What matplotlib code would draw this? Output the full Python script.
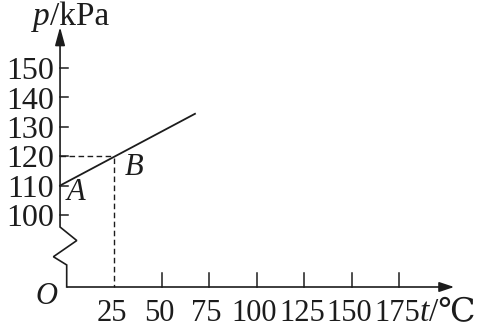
import matplotlib
matplotlib.use("Agg")
import matplotlib.pyplot as plt

# data
x_ticks = [25, 50, 75, 100, 125, 150, 175]
y_ticks = [100, 110, 120, 130, 140, 150]
line_t = [-3.4, 67.6]
line_p = [110.0, 134.4]
point_a = (0, 110)
point_b = (25, 120)

ink = '#1c1c1c'
serif = ['Liberation Serif', 'DejaVu Serif', 'Noto Sans CJK SC']

# broken y axis: lower stub at t=0, upper part a bit to the left
axis_x = -3.4
base_p = 75.5
top_p = 163.9
x_end = 204.0

fig = plt.figure(figsize=(4.8, 3.27), dpi=100)
ax = fig.add_axes([0, 0, 1, 1])
ax.set_xlim(-35.0, 217.6)
ax.set_ylim(61.9, 173.1)
ax.axis('off')

# x axis with arrow
ax.plot([0, x_end - 4], [base_p, base_p], color=ink, lw=1.2, solid_capstyle='butt')
ax.annotate('', xy=(x_end, base_p), xytext=(x_end - 6, base_p),
            arrowprops=dict(arrowstyle='-|>,head_length=0.9,head_width=0.3',
                            color=ink, lw=1.2, shrinkA=0, shrinkB=0))

# y axis with zigzag break and arrow
zig_t = [0.1, 0.1, -6.9, 5.4, axis_x, axis_x]
zig_p = [base_p, 83.0, 85.8, 91.3, 95.9, top_p - 4]
ax.plot(zig_t, zig_p, color=ink, lw=1.2, solid_joinstyle='miter')
ax.annotate('', xy=(axis_x, top_p), xytext=(axis_x, top_p - 5),
            arrowprops=dict(arrowstyle='-|>,head_length=1.1,head_width=0.3',
                            color=ink, lw=1.2, shrinkA=0, shrinkB=0))

# ticks
for t in x_ticks[1:]:
    ax.plot([t, t], [base_p, base_p + 4.8], color=ink, lw=1.1)
for p in y_ticks:
    ax.plot([axis_x, axis_x + 4.2], [p, p], color=ink, lw=1.1)

# tick labels
for t in x_ticks:
    ax.text(t - 1.2, 63.9, str(t), ha='center', va='baseline',
            fontsize=22, family=serif, color=ink)
for p in y_ticks:
    ax.text(-6.6, p - 3.8, str(p), ha='right', va='baseline',
            fontsize=23, family=serif, color=ink)

# data line and dashed guides
ax.plot(line_t, line_p, color=ink, lw=1.3)
ax.plot([axis_x, point_b[0]], [point_b[1], point_b[1]], color=ink, lw=1.0,
        linestyle=(0, (4, 2.5)))
ax.plot([point_b[0], point_b[0]], [point_b[1] - 0.5, base_p], color=ink, lw=1.0,
        linestyle=(0, (4, 2.5)))

# labels
ax.text(point_a[0] + 5.0, point_a[1] - 2.2, 'A', ha='center', va='center',
        fontsize=22, family=serif, style='italic', color=ink)
ax.text(point_b[0] + 10.5, point_b[1] - 3.7, 'B', ha='center', va='center',
        fontsize=22, family=serif, style='italic', color=ink)
ax.text(-10.8, 72.4, 'O', ha='center', va='center',
        fontsize=22, family=serif, style='italic', color=ink)
ax.text(-17.6, 164.6, 'p', ha='left', va='baseline',
        fontsize=24, family=serif, style='italic', color=ink)
ax.text(-8.8, 164.6, '/kPa', ha='left', va='baseline',
        fontsize=24, family=serif, color=ink)
ax.text(185.8, 63.9, 't', ha='left', va='baseline',
        fontsize=24, family=serif, style='italic', color=ink)
ax.text(190.6, 63.9, '/℃', ha='left', va='baseline',
        fontsize=24, family=serif, color=ink)

fig.savefig('out.png', dpi=100)
